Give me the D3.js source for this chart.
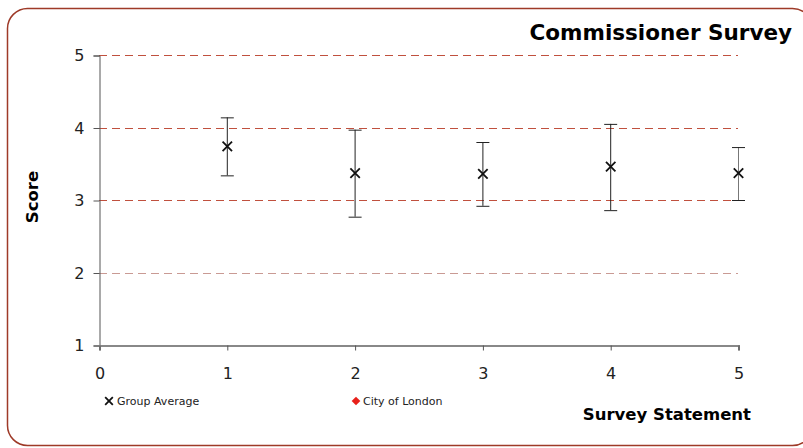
<!DOCTYPE html>
<html>
<head>
  <script src="https://d3js.org/d3.v7.min.js"></script>
  <style>
    body { margin: 0; font-family: "DejaVu Sans", Verdana, sans-serif; background: #fff; }
    .axis-title { font-size: 16.5px; font-weight: bold; }
    .legend { font-size: 11px; fill: #222; }
  </style>
</head>
<body>
  <div id="chart"></div>
  <script>
    const statements = [1, 2, 3, 4, 5];
    const groupAverage = [3.74, 3.37, 3.36, 3.46, 3.37];
    const errHigh = [4.14, 3.97, 3.80, 4.05, 3.73];
    const errLow = [3.34, 2.77, 2.92, 2.86, 3.00];
    const xTicks = [0, 1, 2, 3, 4, 5];
    const yTicks = [1, 2, 3, 4, 5];

    const W = 803, H = 448;
    const svg = d3.select("#chart").append("svg").attr("width", W).attr("height", H);

    // rounded frame
    svg.append("rect")
      .attr("x", 7.5).attr("y", 8.5).attr("width", 805).attr("height", 437)
      .attr("rx", 20).attr("ry", 20)
      .attr("fill", "none").attr("stroke", "#9e3a28").attr("stroke-width", 1.5);

    const x = d3.scaleLinear().domain([0, 5]).range([99, 738]);
    const y = d3.scaleLinear().domain([1, 5]).range([345, 55]);

    // gridlines
    svg.append("g").selectAll("line")
      .data(yTicks.filter(d => d > 1))
      .join("line")
        .attr("x1", x(0)).attr("x2", x(5))
        .attr("y1", d => Math.round(y(d)) + 0.5).attr("y2", d => Math.round(y(d)) + 0.5)
        .attr("stroke", d => d === 2 ? "#c99a94" : "#c0503e")
        .attr("stroke-dasharray", "8,5");

    // y axis
    const yAxis = svg.append("g")
      .attr("transform", `translate(${x(0) + 0.5},0.5)`)
      .call(d3.axisLeft(y).tickValues(yTicks).tickSize(6).tickPadding(9).tickFormat(d3.format("d")));
    yAxis.select(".domain").attr("stroke", "#555");
    yAxis.selectAll(".tick line").attr("stroke", "#555");
    yAxis.selectAll(".tick text").attr("font-size", 16).attr("font-family", "DejaVu Sans").attr("fill", "#222");

    // x axis
    const xAxis = svg.append("g")
      .attr("transform", `translate(0.5,${y(1) + 0.5})`)
      .call(d3.axisBottom(x).tickValues(xTicks).tickSize(5).tickSizeOuter(5).tickPadding(17).tickFormat(d3.format("d")));
    xAxis.select(".domain").attr("stroke", "#888").attr("stroke-width", 2);
    xAxis.selectAll(".tick line").attr("stroke", "#555");
    xAxis.selectAll(".tick text").attr("font-size", 16).attr("font-family", "DejaVu Sans").attr("fill", "#222");

    // error bars
    const eb = svg.append("g").selectAll("g")
      .data(statements)
      .join("g");
    eb.append("line")
      .attr("x1", d => x(d) + 0.5).attr("x2", d => x(d) + 0.5)
      .attr("y1", (d, i) => y(errHigh[i])).attr("y2", (d, i) => y(errLow[i]))
      .attr("stroke", (d, i) => i === 4 ? "#777" : "#222").attr("stroke-width", 1);
    eb.append("line")
      .attr("x1", d => x(d) - 6).attr("x2", d => x(d) + 7)
      .attr("y1", (d, i) => y(errHigh[i]) + 0.5).attr("y2", (d, i) => y(errHigh[i]) + 0.5)
      .attr("stroke", "#222");
    eb.append("line")
      .attr("x1", d => x(d) - 6).attr("x2", d => x(d) + 7)
      .attr("y1", (d, i) => y(errLow[i]) + 0.5).attr("y2", (d, i) => y(errLow[i]) + 0.5)
      .attr("stroke", "#222");

    // markers (x)
    const cross = d3.symbol().type(d3.symbolX).size(60);
    svg.append("g").selectAll("path")
      .data(statements)
      .join("path")
        .attr("transform", (d, i) => `translate(${x(d) + 0.5},${y(groupAverage[i])})`)
        .attr("d", cross)
        .attr("fill", "none").attr("stroke", "#111").attr("stroke-width", 1.8);

    // title
    svg.append("text")
      .attr("x", 792).attr("y", 40)
      .attr("text-anchor", "end")
      .attr("font-size", 21.5).attr("font-weight", "bold")
      .text("Commissioner Survey");

    svg.append("text")
      .attr("class", "axis-title")
      .attr("transform", "rotate(-90)")
      .attr("x", -197).attr("y", 38)
      .attr("text-anchor", "middle")
      .text("Score");

    svg.append("text")
      .attr("class", "axis-title")
      .attr("x", 751).attr("y", 420)
      .attr("text-anchor", "end")
      .text("Survey Statement");

    // legend
    const lg = svg.append("g");
    lg.append("path")
      .attr("transform", "translate(109,401)")
      .attr("d", d3.symbol().type(d3.symbolX).size(40))
      .attr("fill", "none").attr("stroke", "#111").attr("stroke-width", 1.8);
    lg.append("text").attr("class", "legend").attr("x", 117).attr("y", 405).text("Group Average");
    lg.append("path")
      .attr("transform", "translate(356,401) rotate(45)")
      .attr("d", d3.symbol().type(d3.symbolSquare).size(38))
      .attr("fill", "#e8201a");
    lg.append("text").attr("class", "legend").attr("x", 363).attr("y", 405).text("City of London");
  </script>
</body>
</html>
